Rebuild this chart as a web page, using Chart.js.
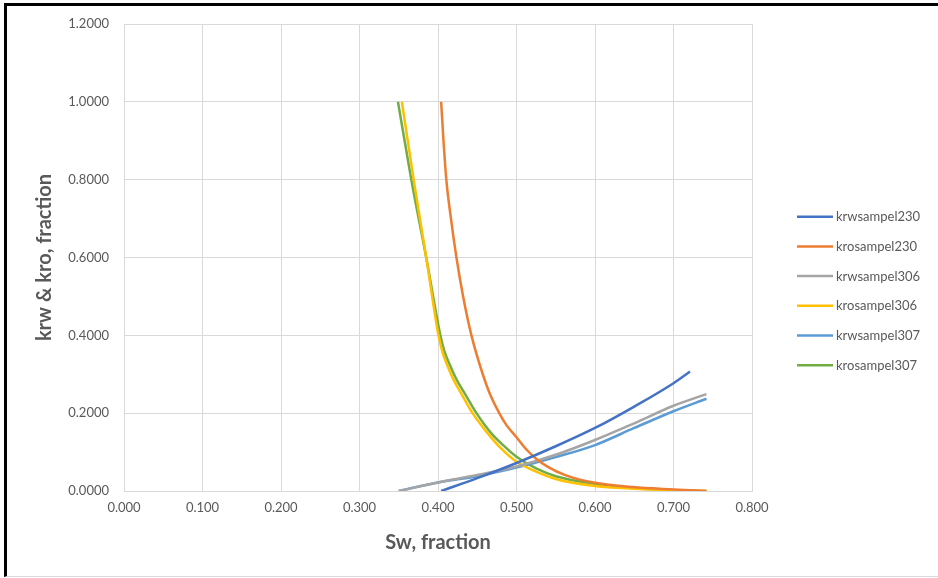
<!DOCTYPE html>
<html>
<head>
<meta charset="utf-8">
<script src="https://cdn.jsdelivr.net/npm/chart.js@4.4.1/dist/chart.umd.min.js"></script>
<style>
  body { margin: 0; background: #fff; }
  .wrap { position: relative; width: 938px; height: 578px; }
  .frame { position: absolute; left: 4px; top: 3px; width: 934px; height: 574px;
    border-left: 3px solid #000; border-top: 3px solid #000; border-bottom: 1px solid #d9d9d9;
    box-sizing: border-box; pointer-events: none; }
  canvas { position: absolute; left: 0; top: 0; }
</style>
</head>
<body>
<div class="wrap">
  <canvas id="krChart" width="938" height="578"></canvas>
  <div class="frame"></div>
</div>
<script>
// Sw values and relative permeabilities
const swKrw230 = [0.404, 0.45, 0.5, 0.55, 0.6, 0.65, 0.7, 0.721];
const krw230 = [0, 0.033, 0.072, 0.115, 0.162, 0.217, 0.277, 0.307];

const swKro230 = [0.404, 0.407, 0.4106, 0.4165, 0.4235, 0.432, 0.4426, 0.457, 0.466, 0.478, 0.487, 0.5, 0.512, 0.525, 0.54, 0.563, 0.6, 0.648, 0.7, 0.742];
const kro230 = [1.0, 0.9, 0.8, 0.7, 0.6, 0.5, 0.4, 0.3, 0.25, 0.2, 0.17, 0.138, 0.108, 0.083, 0.062, 0.04, 0.021, 0.01, 0.004, 0.0];

const swKrw306 = [0.35, 0.4, 0.45, 0.5, 0.55, 0.6, 0.65, 0.7, 0.742];
const krw306 = [0, 0.022, 0.041, 0.063, 0.093, 0.131, 0.174, 0.219, 0.249];

const swKro306 = [0.354, 0.369, 0.385, 0.4006, 0.406, 0.4125, 0.42, 0.4295, 0.444, 0.4634, 0.48, 0.5, 0.525, 0.55, 0.6, 0.65, 0.7, 0.742];
const kro306 = [1.0, 0.8, 0.6, 0.4, 0.355, 0.32, 0.285, 0.251, 0.2, 0.148, 0.11, 0.075, 0.05, 0.031, 0.013, 0.006, 0.002, 0.0];

const swKrw307 = [0.35, 0.4, 0.45, 0.5, 0.55, 0.6, 0.65, 0.7, 0.742];
const krw307 = [0, 0.022, 0.038, 0.06, 0.087, 0.118, 0.162, 0.205, 0.237];

const swKro307 = [0.349, 0.366, 0.385, 0.403, 0.408, 0.416, 0.424, 0.434, 0.449, 0.468, 0.485, 0.5, 0.525, 0.55, 0.6, 0.65, 0.7, 0.742];
const kro307 = [1.0, 0.8, 0.6, 0.4, 0.36, 0.32, 0.285, 0.251, 0.2, 0.148, 0.114, 0.088, 0.058, 0.038, 0.018, 0.007, 0.002, 0.0];

const seriesNames = ["krwsampel230", "krosampel230", "krwsampel306", "krosampel306", "krwsampel307", "krosampel307"];
const seriesColors = ["#4472C4", "#ED7D31", "#A5A5A5", "#FFC000", "#5B9BD5", "#70AD47"];

const xTicks = { min: 0, max: 0.8, step: 0.1 };
const yTicks = { min: 0, max: 1.2, step: 0.2 };

const pairs = [
  [swKrw230, krw230], [swKro230, kro230],
  [swKrw306, krw306], [swKro306, kro306],
  [swKrw307, krw307], [swKro307, kro307],
];

const textColor = "#595959";
const gridColor = "#D9D9D9";
const fontFamily = "Lato, 'Open Sans', sans-serif";

// draw the legend at the right like Excel does
const sideLegend = {
  id: "sideLegend",
  afterDraw(chart) {
    const ctx = chart.ctx;
    const startY = 216.7;
    const gap = 29.7;
    ctx.save();
    ctx.font = "13px " + fontFamily;
    ctx.textBaseline = "middle";
    ctx.textAlign = "left";
    chart.data.datasets.forEach((ds, i) => {
      const y = startY + i * gap;
      ctx.strokeStyle = ds.borderColor;
      ctx.lineWidth = 2.5;
      ctx.beginPath();
      ctx.moveTo(797, y);
      ctx.lineTo(833, y);
      ctx.stroke();
      ctx.fillStyle = textColor;
      ctx.fillText(ds.label, 836, y + 0.5);
    });
    ctx.restore();
  },
};

new Chart(document.getElementById("krChart"), {
  type: "scatter",
  data: {
    datasets: pairs.map(([xs, ys], i) => ({
      label: seriesNames[i],
      data: xs.map((x, j) => ({ x: x, y: ys[j] })),
      borderColor: seriesColors[i],
      backgroundColor: seriesColors[i],
      borderWidth: 2.5,
      showLine: true,
      pointRadius: 0,
      cubicInterpolationMode: "monotone",
    })),
  },
  options: {
    responsive: false,
    animation: false,
    layout: { padding: { top: 24, right: 186, bottom: 0, left: 0 } },
    plugins: { legend: { display: false }, tooltip: { enabled: false } },
    scales: {
      x: {
        type: "linear",
        min: xTicks.min,
        max: xTicks.max,
        ticks: {
          stepSize: xTicks.step,
          color: textColor,
          font: { family: fontFamily, size: 13 },
          padding: 9,
          callback: (v) => v.toFixed(3),
        },
        grid: { color: gridColor, drawTicks: false },
        border: { color: gridColor },
        title: {
          display: true,
          text: "Sw, fraction",
          color: textColor,
          font: { family: fontFamily, size: 20, weight: "bold" },
          padding: { top: 0, bottom: 23 },
        },
        afterFit: (scale) => { scale.height = 87; },
      },
      y: {
        type: "linear",
        min: yTicks.min,
        max: yTicks.max,
        ticks: {
          stepSize: yTicks.step,
          color: textColor,
          font: { family: fontFamily, size: 13 },
          padding: 15,
          callback: (v) => v.toFixed(4),
        },
        grid: { color: gridColor, drawTicks: false },
        border: { color: gridColor },
        title: {
          display: true,
          text: "krw & kro, fraction",
          color: textColor,
          font: { family: fontFamily, size: 20, weight: "bold" },
          padding: { top: 33, bottom: 0 },
        },
        afterFit: (scale) => { scale.width = 124; },
      },
    },
  },
  plugins: [sideLegend],
});
</script>
</body>
</html>
